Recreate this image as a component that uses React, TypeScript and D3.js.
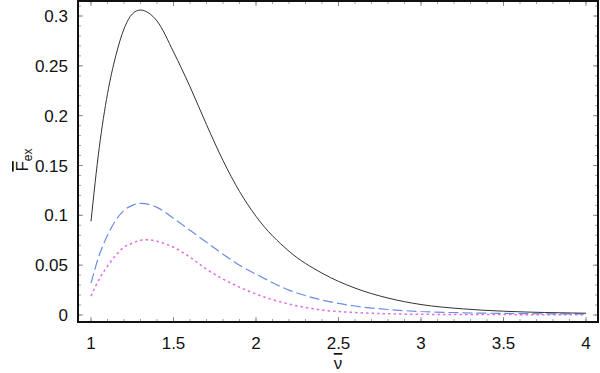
import React from "react";
import * as d3 from "d3";

// sample points along the reduced frequency axis
const nu = [1, 1.05, 1.1, 1.15, 1.2, 1.25, 1.3, 1.35, 1.4, 1.5, 1.6, 1.7, 1.8, 1.9, 2.0, 2.2, 2.4, 2.6, 2.8, 3.0, 3.25, 3.5, 3.75, 4.0];

const solidSeries = [0.094, 0.168, 0.222, 0.26, 0.287, 0.302, 0.306, 0.303, 0.295, 0.264, 0.229, 0.191, 0.155, 0.124, 0.099, 0.064, 0.042, 0.027, 0.017, 0.0105, 0.0062, 0.0038, 0.0025, 0.0018];
const dashedSeries = [0.032, 0.06, 0.08, 0.095, 0.105, 0.11, 0.112, 0.111, 0.108, 0.097, 0.085, 0.073, 0.061, 0.05, 0.041, 0.025, 0.015, 0.009, 0.0055, 0.0035, 0.0022, 0.0016, 0.0012, 0.001];
const dottedSeries = [0.019, 0.036, 0.049, 0.06, 0.068, 0.072, 0.075, 0.0755, 0.074, 0.068, 0.058, 0.046, 0.036, 0.028, 0.021, 0.011, 0.005, 0.0025, 0.0012, 0.0007, 0.0005, 0.0004, 0.0003, 0.0003];

const xTicks = [1, 1.5, 2, 2.5, 3, 3.5, 4];
const yTicks = [0, 0.05, 0.1, 0.15, 0.2, 0.25, 0.3];

const W = 600;
const H = 373;
const frame = { left: 78, right: 598, top: 1, bottom: 322 };

const font = "'Liberation Sans', Arial, Helvetica, sans-serif";

export default function App() {
  const x = d3.scaleLinear().domain([1, 4]).range([91, 586]);
  const y = d3.scaleLinear().domain([0, 0.3]).range([315, 16]);

  const line = (vals: number[]) =>
    d3
      .line<number>()
      .x((_, i) => x(nu[i]))
      .y((d) => y(d))
      .curve(d3.curveMonotoneX)(vals) || "";

  const xMinor = d3.range(10, 41).map((d) => d / 10);
  const yMinor = d3.range(0, 32).map((d) => d / 100);

  const tickColor = "#777";

  return (
    <svg
      width={W}
      height={H}
      style={{ position: "absolute", left: 0, top: 0, background: "#fff" }}
      fontFamily={font}
    >
      {/* minor ticks */}
      {xMinor.map((t) => (
        <g key={"xm" + t} stroke={tickColor} strokeWidth={0.7}>
          <line x1={x(t)} x2={x(t)} y1={frame.bottom} y2={frame.bottom - 3} />
          <line x1={x(t)} x2={x(t)} y1={frame.top} y2={frame.top + 3} />
        </g>
      ))}
      {yMinor.map((t) => (
        <g key={"ym" + t} stroke={tickColor} strokeWidth={0.7}>
          <line x1={frame.left} x2={frame.left + 3} y1={y(t)} y2={y(t)} />
          <line x1={frame.right} x2={frame.right - 3} y1={y(t)} y2={y(t)} />
        </g>
      ))}
      {/* major ticks + labels */}
      {xTicks.map((t) => (
        <g key={"x" + t}>
          <line x1={x(t)} x2={x(t)} y1={frame.bottom} y2={frame.bottom - 5} stroke={tickColor} strokeWidth={0.8} />
          <line x1={x(t)} x2={x(t)} y1={frame.top} y2={frame.top + 5} stroke={tickColor} strokeWidth={0.8} />
          <text x={x(t)} y={349} fontSize={17} textAnchor="middle" fill="#111">
            {t}
          </text>
        </g>
      ))}
      {yTicks.map((t) => (
        <g key={"y" + t}>
          <line x1={frame.left} x2={frame.left + 5} y1={y(t)} y2={y(t)} stroke={tickColor} strokeWidth={0.8} />
          <line x1={frame.right} x2={frame.right - 5} y1={y(t)} y2={y(t)} stroke={tickColor} strokeWidth={0.8} />
          <text x={68} y={y(t)} dy="0.36em" fontSize={17} textAnchor="end" fill="#111">
            {t}
          </text>
        </g>
      ))}

      {/* curves */}
      <path d={line(dottedSeries)} fill="none" stroke="#e06ee8" strokeWidth={1.5} strokeDasharray="2.5,3" />
      <path d={line(dashedSeries)} fill="none" stroke="#6a8de6" strokeWidth={1.2} strokeDasharray="10,4" />
      <path d={line(solidSeries)} fill="none" stroke="#333" strokeWidth={1} />

      {/* frame */}
      <rect
        x={frame.left}
        y={frame.top}
        width={frame.right - frame.left}
        height={frame.bottom - frame.top}
        fill="none"
        stroke="#111"
        strokeWidth={2}
      />

      {/* axis titles */}
      <text x={(frame.left + frame.right) / 2} y={369} fontSize={17} textAnchor="middle" fill="#111">
        <tspan style={{ textDecoration: "overline" }}>ν</tspan>
      </text>
      <text transform="translate(28,160) rotate(-90)" fontSize={17} textAnchor="middle" fill="#111">
        <tspan style={{ textDecoration: "overline" }}>F</tspan>
        <tspan fontSize={12} dy={4}>ex</tspan>
      </text>
    </svg>
  );
}
